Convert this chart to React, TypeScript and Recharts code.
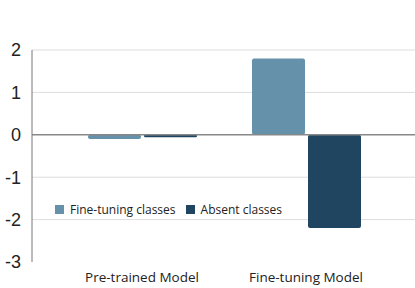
import React from 'react';
import {
    BarChart,
    Bar,
    XAxis,
    YAxis,
    CartesianGrid,
    ReferenceLine,
} from 'recharts';

const models = ['Pre-trained Model', 'Fine-tuning Model'];
const fineTuningClasses = [-0.1, 1.8];
const absentClasses = [-0.06, -2.2];
const yTicks = [2, 1, 0, -1, -2, -3];

const data = models.map((model, i) => ({
    model,
    fineTuning: fineTuningClasses[i],
    absent: absentClasses[i],
}));

const FINE_COLOR = '#6591ab';
const ABSENT_COLOR = '#1f4560';

const legendItems = [
    { label: 'Fine-tuning classes', color: FINE_COLOR },
    { label: 'Absent classes', color: ABSENT_COLOR },
];

export default function App() {
    return (
        <div style={{ position: 'fixed', top: 0, left: 0, width: 415, height: 288, background: '#fff' }}>
            <BarChart
                width={415}
                height={288}
                data={data}
                margin={{ top: 50, right: 0, left: 0, bottom: 0 }}
                barCategoryGap={28}
                barGap={3}
            >
                <CartesianGrid vertical={false} stroke="#dddddd" horizontalValues={[2, 1, -1, -2]} />
                <XAxis
                    dataKey="model"
                    axisLine={false}
                    tickLine={false}
                    height={26}
                    tickMargin={4}
                    padding={{ left: 28, right: 27 }}
                    tick={{ fontSize: 13.5, fill: '#222', fontFamily: '"Open Sans", sans-serif' }}
                />
                <YAxis
                    domain={[-3, 2]}
                    ticks={yTicks}
                    width={32}
                    tickLine={false}
                    axisLine={{ stroke: '#777' }}
                    tickMargin={5}
                    tick={{ fontSize: 18, fill: '#222', fontFamily: '"Liberation Sans", Arial, sans-serif' }}
                />
                <ReferenceLine y={0} stroke="#888" strokeWidth={1.5} />
                <Bar dataKey="fineTuning" name="Fine-tuning classes" fill={FINE_COLOR} radius={2} isAnimationActive={false} />
                <Bar dataKey="absent" name="Absent classes" fill={ABSENT_COLOR} radius={2} isAnimationActive={false} />
            </BarChart>
            <div
                style={{
                    position: 'absolute',
                    top: 201,
                    left: 55,
                    display: 'flex',
                    alignItems: 'center',
                    fontFamily: '"Open Sans", sans-serif',
                    fontSize: 12,
                    color: '#222',
                }}
            >
                {legendItems.map((it) => (
                    <div key={it.label} style={{ display: 'flex', alignItems: 'center', marginRight: 10 }}>
                        <span style={{ width: 9, height: 9, background: it.color, display: 'inline-block', marginRight: 6 }} />
                        <span>{it.label}</span>
                    </div>
                ))}
            </div>
        </div>
    );
}
